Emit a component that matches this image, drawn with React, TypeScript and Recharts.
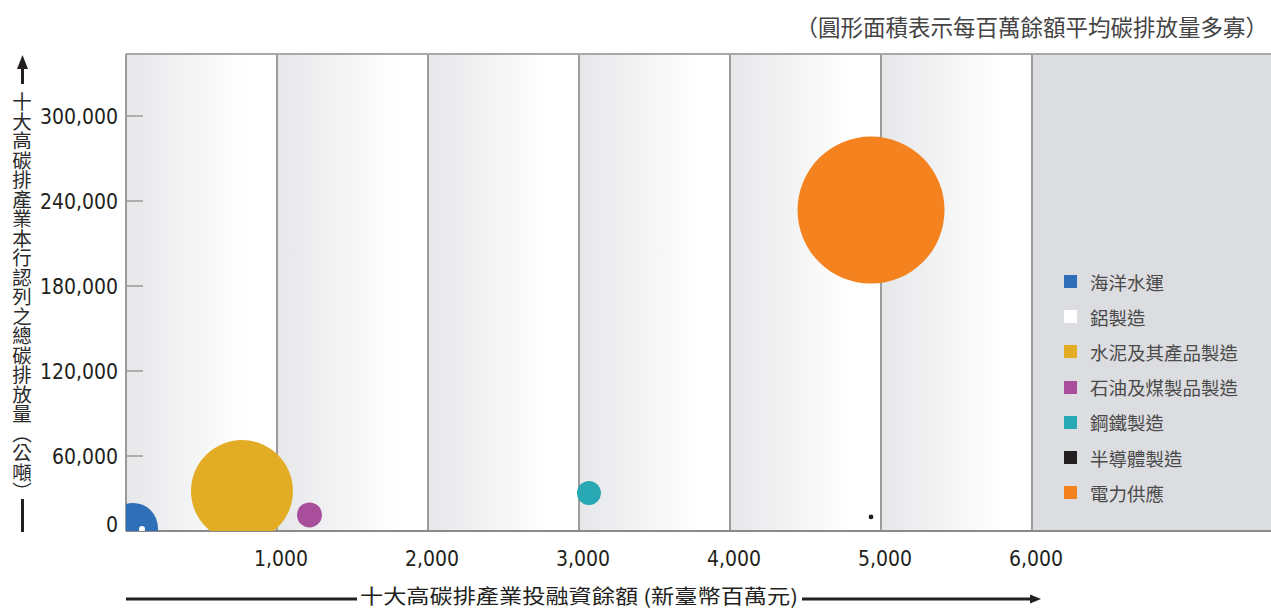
import { ScatterChart, Scatter, XAxis, YAxis, ZAxis, ReferenceArea, ReferenceLine, Legend, Label } from 'recharts'

// industries, in legend order
const industries = ['海洋水運', '鋁製造', '水泥及其產品製造', '石油及煤製品製造', '鋼鐵製造', '半導體製造', '電力供應']
const colors = ['#2f6fb7', '#ffffff', '#e2ad24', '#a84e9b', '#27a8b3', '#231f20', '#f4821f']
// 投融資餘額 (新臺幣百萬元)
const loanBalance = [46, 106, 768, 1215, 3066, 4934, 4934]
// 本行認列之總碳排放量 (公噸)
const emissions = [9200, 8500, 35300, 18400, 33900, 17000, 233600]
// 每百萬餘額平均碳排放量 (bubble area)
const intensity = [5.5, 0.08, 22.8, 1.37, 1.26, 0.05, 47.4]

const xTicks = [1000, 2000, 3000, 4000, 5000, 6000]
const yTicks = [0, 60000, 120000, 180000, 240000, 300000]

const X_MAX = 7583
const Y_MIN = 7060
const Y_MAX = 343760
const Z_MAX = 47.4
const MAX_AREA = 16972

const numFont = '"Liberation Sans Narrow", "DejaVu Sans Condensed", sans-serif'
const cjkFont = '"Noto Sans CJK TC", "Noto Sans CJK SC", sans-serif'

const bandStarts = [0, ...xTicks.slice(0, -1)]

const YTick = (props: any) => {
  const { x, y, payload } = props
  const isZero = payload.value === 0
  return (
    <g>
      {!isZero && <line x1={x + 8} x2={x + 25} y1={y} y2={y} stroke="#9a9a9a" strokeWidth={1.5} />}
      <text x={x} y={isZero ? y - 17 : y} dy="0.36em" textAnchor="end" fontFamily={numFont} fontSize={21} fill="#231f20">
        {payload.value.toLocaleString('en-US')}
      </text>
    </g>
  )
}

const XTick = (props: any) => {
  const { x, y, payload } = props
  return (
    <text x={x + 4} y={y + 27} textAnchor="middle" fontFamily={numFont} fontSize={21} fill="#231f20">
      {payload.value.toLocaleString('en-US')}
    </text>
  )
}

const YTitle = () => (
  <g>
    <polygon points="22.5,55 17,69 28,69" fill="#231f20" />
    <line x1={22.5} x2={22.5} y1={67} y2={84} stroke="#231f20" strokeWidth={3} />
    <text x={22} y={92} fontFamily={cjkFont} fontSize={19.5} fill="#2a2a2a" style={{ writingMode: 'vertical-rl' }}>
      十大高碳排產業本行認列之總碳排放量（公噸）
    </text>
    <line x1={22.5} x2={22.5} y1={499} y2={532} stroke="#231f20" strokeWidth={3} />
  </g>
)

const XTitle = () => (
  <g>
    <line x1={126} x2={357} y1={599} y2={599} stroke="#231f20" strokeWidth={3} />
    <text x={579} y={595} dominantBaseline="central" textAnchor="middle" fontFamily={cjkFont} fontSize={20} fill="#231f20"
      textLength={438} lengthAdjust="spacingAndGlyphs">
      十大高碳排產業投融資餘額 (新臺幣百萬元)
    </text>
    <line x1={802} x2={1032} y1={599} y2={599} stroke="#231f20" strokeWidth={3} />
    <polygon points="1041,599 1030,594.5 1030,603.5" fill="#231f20" />
  </g>
)

const renderLegend = () => (
  <div style={{ fontFamily: cjkFont, fontSize: 18.5, color: '#4a4a4a' }}>
    {industries.map((name, i) => (
      <div key={name} style={{ display: 'flex', alignItems: 'center', height: 35.2 }}>
        <span style={{ width: 13, height: 13, background: colors[i], marginRight: 13, display: 'inline-block' }} />
        {name}
      </div>
    ))}
  </div>
)

export default function App() {
  return (
    <div style={{ position: 'absolute', left: 0, top: 0, width: 1271, height: 610, background: '#fff' }}>
      <div style={{ position: 'absolute', right: 3, top: 10, fontFamily: cjkFont, fontSize: 22.5, color: '#444', whiteSpace: 'nowrap', zIndex: 2 }}>
        （圓形面積表示每百萬餘額平均碳排放量多寡）
      </div>
      <ScatterChart width={1271} height={610} margin={{ top: 54, right: 0, left: 0, bottom: 0 }}>
        <defs>
          <linearGradient id="band" x1="0" y1="0" x2="1" y2="0">
            <stop offset="0%" stopColor="#e6e7e9" />
            <stop offset="80%" stopColor="#ffffff" />
            <stop offset="100%" stopColor="#ffffff" />
          </linearGradient>
        </defs>
        {bandStarts.map((b) => (
          <ReferenceArea key={b} x1={b} x2={b + 1000} y1={Y_MIN} y2={Y_MAX} fill="url(#band)" fillOpacity={1} stroke="none" />
        ))}
        <ReferenceArea x1={6000} x2={X_MAX} y1={Y_MIN} y2={Y_MAX} fill="#dcdde0" fillOpacity={1} stroke="none" />
        {xTicks.map((t) => (
          <ReferenceLine key={t} x={t} stroke="#9b9b9b" strokeWidth={2} />
        ))}
        <ReferenceLine y={Y_MAX} stroke="#a8a8a8" strokeWidth={2} />
        <XAxis type="number" dataKey="x" domain={[0, X_MAX]} ticks={xTicks} interval={0} allowDataOverflow
          height={79} axisLine={{ stroke: '#8a8a8a', strokeWidth: 2 }} tickLine={false} tick={<XTick />}>
          <Label content={<XTitle />} />
        </XAxis>
        <YAxis type="number" dataKey="y" domain={[Y_MIN, Y_MAX]} ticks={yTicks} interval={0} allowDataOverflow
          width={126} axisLine={{ stroke: '#9a9a9a', strokeWidth: 2 }} tickLine={false} tick={<YTick />}>
          <Label content={<YTitle />} />
        </YAxis>
        <ZAxis type="number" dataKey="z" domain={[0, Z_MAX]} range={[0, MAX_AREA]} />
        <Legend layout="horizontal" align="center" verticalAlign="middle" content={renderLegend}
          wrapperStyle={{ left: 1064, top: 264, width: 200 }} />
        {industries.map((name, i) => (
          <Scatter key={name} name={name} data={[{ x: loanBalance[i], y: emissions[i], z: intensity[i] }]}
            fill={colors[i]} isAnimationActive={false} />
        ))}
      </ScatterChart>
    </div>
  )
}
